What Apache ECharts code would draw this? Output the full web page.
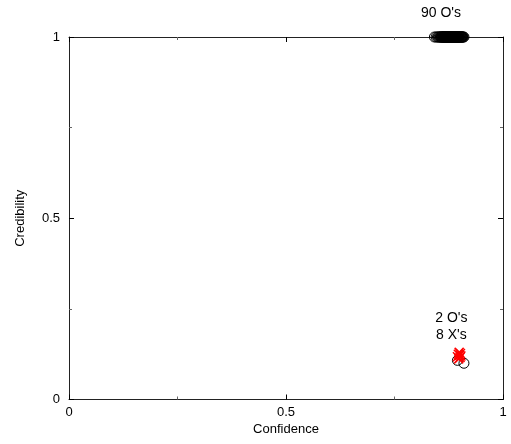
<!DOCTYPE html>
<html>
<head>
<meta charset="utf-8">
<script src="https://cdn.jsdelivr.net/npm/echarts@6/dist/echarts.min.js"></script>
<style>
  html, body { margin: 0; padding: 0; background: #fff; }
  #chart { width: 511px; height: 444px; }
</style>
</head>
<body>
<div id="chart"></div>
<script>
// Axis tick labels (major ticks every 0.5, minor halfway between)
const tickLabels = { 0: '0', 0.5: '0.5', 1: '1' };

// 90 "O" cases with full credibility (confidence values)
const oTopConfidence = [
  0.842, 0.846, 0.849, 0.851, 0.853, 0.855, 0.856, 0.857, 0.858, 0.859,
  0.860, 0.861, 0.862, 0.863, 0.864, 0.864, 0.865, 0.866, 0.866, 0.867,
  0.868, 0.868, 0.869, 0.870, 0.870, 0.871, 0.871, 0.872, 0.873, 0.873,
  0.874, 0.874, 0.875, 0.875, 0.876, 0.876, 0.877, 0.877, 0.878, 0.878,
  0.879, 0.879, 0.880, 0.880, 0.881, 0.881, 0.882, 0.882, 0.883, 0.883,
  0.884, 0.884, 0.885, 0.885, 0.886, 0.886, 0.887, 0.887, 0.888, 0.888,
  0.889, 0.889, 0.890, 0.890, 0.891, 0.891, 0.892, 0.892, 0.893, 0.893,
  0.894, 0.894, 0.895, 0.895, 0.896, 0.896, 0.897, 0.897, 0.898, 0.899,
  0.900, 0.901, 0.902, 0.903, 0.904, 0.905, 0.906, 0.907, 0.908, 0.910
];
const oTopCredibility = 1;

// 2 "O" cases with low credibility
const oLowConfidence = [0.895, 0.910];
const oLowCredibility = [0.108, 0.100];

// 8 "X" cases with low credibility
const xConfidence = [0.895, 0.897, 0.899, 0.900, 0.901, 0.902, 0.898, 0.903];
const xCredibility = [0.118, 0.125, 0.130, 0.122, 0.116, 0.127, 0.112, 0.120];

// Group annotations
const notes = [
  { text: "90 O's", x: 0.857, y: 1.066 },
  { text: "2 O's", x: 0.881, y: 0.225 },
  { text: "8 X's", x: 0.881, y: 0.178 }
];

const font = 'Liberation Sans, Arial, Helvetica, sans-serif';
const chart = echarts.init(document.getElementById('chart'), null, { renderer: 'canvas' });

function frameAxis(pos, showLabels, name, gap) {
  return {
    type: 'value', min: 0, max: 1, interval: 0.5, position: pos,
    name: showLabels ? name : '', nameLocation: 'middle', nameGap: gap,
    nameTextStyle: { color: '#000', fontFamily: font, fontSize: 13 },
    axisLine: { show: true, onZero: false, lineStyle: { color: '#222', width: 1 } },
    axisTick: { show: true, inside: true, length: 5, lineStyle: { color: '#000', width: 1 } },
    minorTick: { show: true, splitNumber: 2, length: 3, lineStyle: { color: '#666', width: 1 } },
    axisLabel: {
      show: showLabels, color: '#000', fontFamily: font, fontSize: 13, margin: 8,
      formatter: v => (tickLabels[v] !== undefined ? tickLabels[v] : '')
    },
    splitLine: { show: false },
    minorSplitLine: { show: false }
  };
}

const xAxis = [frameAxis('bottom', true, 'Confidence', 22), frameAxis('top', false)];
const yAxis = [frameAxis('left', true, 'Credibility', 42), frameAxis('right', false)];
xAxis[0].axisLabel.margin = 6;
yAxis[0].axisLabel.margin = 9;

const circleStyle = { color: 'rgba(0,0,0,0)', borderColor: '#000', borderWidth: 1, opacity: 1 };

chart.setOption({
  animation: false,
  backgroundColor: '#fff',
  grid: { left: 69, right: 8, top: 37, bottom: 44.5, containLabel: false },
  xAxis, yAxis,
  series: [
    {
      type: 'scatter', symbol: 'circle', symbolSize: 10, clip: false,
      itemStyle: circleStyle,
      data: oTopConfidence.map(c => [c, oTopCredibility])
    },
    {
      type: 'scatter', symbol: 'circle', symbolSize: 10, clip: false,
      itemStyle: circleStyle,
      data: oLowConfidence.map((c, i) => [c, oLowCredibility[i]])
    },
    {
      type: 'scatter', symbol: 'path://M0,0L10,10M10,0L0,10', symbolSize: 9, clip: false,
      itemStyle: { color: 'rgba(0,0,0,0)', borderColor: '#ff0000', borderWidth: 1.5, opacity: 1 },
      data: xConfidence.map((c, i) => [c, xCredibility[i]])
    },
    {
      type: 'scatter', symbol: 'circle', symbolSize: 1, clip: false, silent: true,
      itemStyle: { color: 'rgba(0,0,0,0)', borderWidth: 0, opacity: 1 },
      label: {
        show: true, position: 'inside', color: '#000', opacity: 1,
        textBorderWidth: 0, fontFamily: font, fontSize: 14,
        formatter: p => p.data.name
      },
      data: notes.map(n => ({ name: n.text, value: [n.x, n.y] }))
    }
  ]
});
</script>
</body>
</html>
